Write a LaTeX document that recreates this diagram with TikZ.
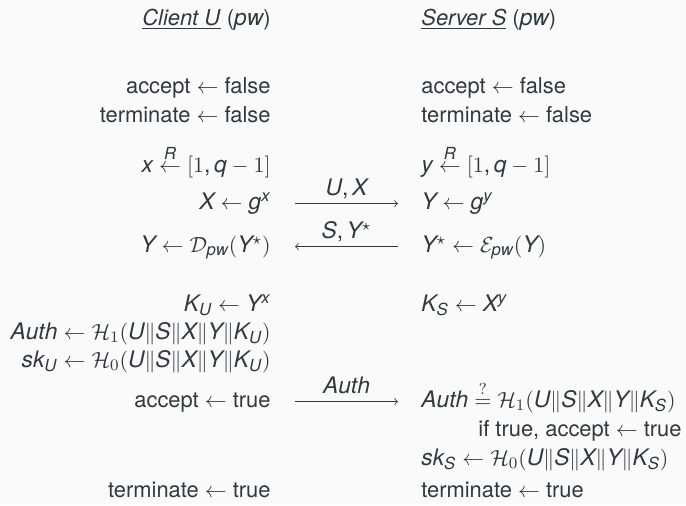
\documentclass[tikz,border=0pt,11pt]{standalone}
\usepackage{amsmath}
\usepackage{fontspec}
\setmainfont{TeX Gyre Heros}
\newfontfamily\herosfam[NFSSFamily=heros, Scale=1.04]{TeX Gyre Heros}
\usepackage{xcolor}
\usepackage{tikz}
\definecolor{ink}{HTML}{2E3A40}
\definecolor{paper}{HTML}{FAFAFA}

% sans letters, digits and brackets in math
\DeclareSymbolFont{sfupright}{TU}{heros}{m}{n}
\DeclareSymbolFont{sfletters}{TU}{heros}{m}{it}
\makeatletter
\def\sfmathletter#1{\DeclareMathSymbol{#1}{\mathalpha}{sfletters}{`#1}}
\def\sfmathdigit#1{\DeclareMathSymbol{#1}{\mathalpha}{sfupright}{`#1}}
\@tfor\sfl:=abcdefghijklmnopqrstuvwxyzABCDEFGHIJKLMNOPQRSTUVWXYZ\do{\expandafter\sfmathletter\sfl}
\@tfor\sfl:=0123456789\do{\expandafter\sfmathdigit\sfl}
\makeatother
\DeclareMathSymbol{,}{\mathpunct}{sfupright}{`,}
\DeclareMathSymbol{=}{\mathrel}{sfupright}{`=}
\DeclareMathDelimiter{(}{\mathopen}{sfupright}{`(}{largesymbols}{"00}
\DeclareMathDelimiter{)}{\mathclose}{sfupright}{`)}{largesymbols}{"01}
\DeclareMathDelimiter{[}{\mathopen}{sfupright}{`[}{largesymbols}{"02}
\DeclareMathDelimiter{]}{\mathclose}{sfupright}{`]}{largesymbols}{"03}

\begin{document}
\begin{tikzpicture}[
  x=0.5pt, y=-0.5pt, color=ink,
  lcol/.style={anchor=base east, inner sep=0pt},
  rcol/.style={anchor=base west, inner sep=0pt},
  msg/.style={draw, ->},
  lbl/.style={midway, anchor=base, yshift=4pt, inner sep=0pt}
]

\fill[paper] (0,0) rectangle (686,505);

% Headers
\node[lcol] (hdrU) at (271,25) {\underline{\textit{Client U}} ($pw$)};
\node[rcol] (hdrS) at (421,25) {\underline{\textit{Server S}} ($pw$)};

% Client U
\node[lcol] (accU) at (271,93) {accept $\leftarrow$ false};
\node[lcol] (termU) at (271,122) {terminate $\leftarrow$ false};
\node[lcol] (xU) at (271,172) {$x \stackrel{R}{\leftarrow} [1, q-1]$};
\node[lcol] (gxU) at (271,209) {$X \leftarrow g^{x}$};
\node[lcol] (decU) at (271,252) {$Y \leftarrow \mathcal{D}_{pw}(Y^{\star})$};
\node[lcol] (keyU) at (271,311) {$K_U \leftarrow Y^{x}$};
\node[lcol] (authU) at (271,339) {$Auth \leftarrow \mathcal{H}_1(U\|S\|X\|Y\|K_U)$};
\node[lcol] (skU) at (271,367) {$sk_U \leftarrow \mathcal{H}_0(U\|S\|X\|Y\|K_U)$};
\node[lcol] (okU) at (271,407) {accept $\leftarrow$ true};
\node[lcol] (endU) at (271,497) {terminate $\leftarrow$ true};

% Server S
\node[rcol] (accS) at (421,93) {accept $\leftarrow$ false};
\node[rcol] (termS) at (421,122) {terminate $\leftarrow$ false};
\node[rcol] (yS) at (421,172) {$y \stackrel{R}{\leftarrow} [1, q-1]$};
\node[rcol] (gyS) at (421,209) {$Y \leftarrow g^{y}$};
\node[rcol] (encS) at (421,252) {$Y^{\star} \leftarrow \mathcal{E}_{pw}(Y)$};
\node[rcol] (keyS) at (421,311) {$K_S \leftarrow X^{y}$};
\node[rcol] (authS) at (421,407) {$Auth \stackrel{?}{=} \mathcal{H}_1(U\|S\|X\|Y\|K_S)$};
\node[anchor=base east, inner sep=0pt] (okS) at (682,436) {if true, accept $\leftarrow$ true};
\node[rcol] (skS) at (421,465) {$sk_S \leftarrow \mathcal{H}_0(U\|S\|X\|Y\|K_S)$};
\node[rcol] (endS) at (421,497) {terminate $\leftarrow$ true};

% Messages
\draw[msg] ([xshift=12pt,yshift=2.7pt]gxU.base east) -- ([xshift=-11.5pt,yshift=2.7pt]gyS.base west)
  node[lbl] {$U, X$};
\draw[msg] ([xshift=-11.5pt,yshift=2.7pt]encS.base west) -- ([xshift=12pt,yshift=2.7pt]decU.base east)
  node[lbl] {$S, Y^{\star}$};
\draw[msg] ([xshift=12pt,yshift=2.7pt]okU.base east) -- ([xshift=-11.5pt,yshift=2.7pt]authS.base west)
  node[lbl] {$Auth$};

\end{tikzpicture}
\end{document}
